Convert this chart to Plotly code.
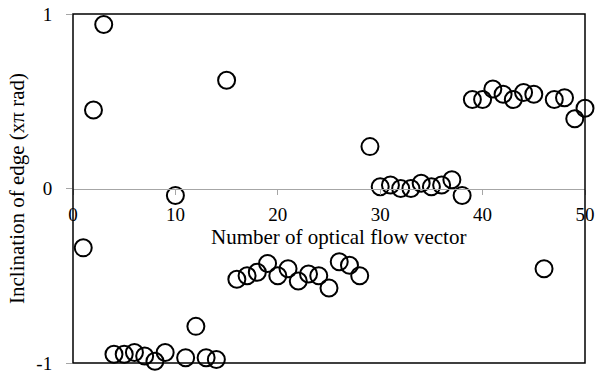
import plotly.graph_objects as go

# Inclination of each edge, in units of pi rad, for optical flow vectors 1..50
vector_no = list(range(1, 51))
inclination = [
    -0.34, 0.45, 0.94, -0.95, -0.95, -0.94, -0.96, -0.99, -0.94, -0.04,
    -0.97, -0.79, -0.97, -0.98, 0.62, -0.52, -0.50, -0.48, -0.43, -0.50,
    -0.46, -0.53, -0.49, -0.50, -0.57, -0.42, -0.44, -0.50, 0.24, 0.01,
    0.02, 0.00, 0.00, 0.03, 0.01, 0.02, 0.05, -0.04, 0.51, 0.51,
    0.57, 0.54, 0.51, 0.55, 0.54, -0.46, 0.51, 0.52, 0.40, 0.46,
]

x_ticks = [0, 10, 20, 30, 40, 50]
y_ticks = [-1, 0, 1]
y_tick_text = ["-1", "0", "1"]
x_title = "Number of optical flow vector"
y_title = "Inclination of edge (xπ rad)"

FONT = "Liberation Serif, Times New Roman, serif"
GREY = "#a6a6a6"

fig = go.Figure()
fig.add_trace(go.Scatter(
    x=vector_no,
    y=inclination,
    mode="markers",
    marker=dict(symbol="circle-open", size=17, color="black",
                line=dict(width=2, color="black")),
    cliponaxis=False,
    showlegend=False,
))

fig.update_layout(
    width=595,
    height=374,
    margin=dict(l=73, r=10, t=14, b=11),
    paper_bgcolor="white",
    plot_bgcolor="white",
    font=dict(family=FONT, color="black", size=19),
    # horizontal axis sits on y = 0, in the middle of the plot area
    xaxis=dict(
        range=[0, 50],
        tickvals=x_ticks,
        anchor="free",
        position=0.5,
        automargin=False,
        showline=True,
        linecolor=GREY,
        linewidth=1,
        ticks="outside",
        ticklen=5,
        tickcolor=GREY,
        ticklabelstandoff=4,
        showgrid=False,
        zeroline=False,
        tickfont=dict(family=FONT, size=19),
    ),
    yaxis=dict(
        range=[-1, 1],
        tickvals=y_ticks,
        ticktext=y_tick_text,
        automargin=False,
        showline=False,
        ticks="outside",
        ticklen=6,
        tickcolor=GREY,
        ticklabelstandoff=10,
        showgrid=False,
        zeroline=False,
        tickfont=dict(family=FONT, size=19),
        title=dict(text=y_title, font=dict(family=FONT, size=21), standoff=6),
    ),
    annotations=[dict(text=x_title, xref="paper", yref="paper",
                      x=0.518, y=0.362, xanchor="center", yanchor="middle",
                      showarrow=False, font=dict(family=FONT, size=21))],
    shapes=[dict(type="rect", xref="paper", yref="paper",
                 x0=0, x1=1, y0=0, y1=1,
                 line=dict(color="black", width=1.5), layer="above")],
)

fig.write_html("out.html")
